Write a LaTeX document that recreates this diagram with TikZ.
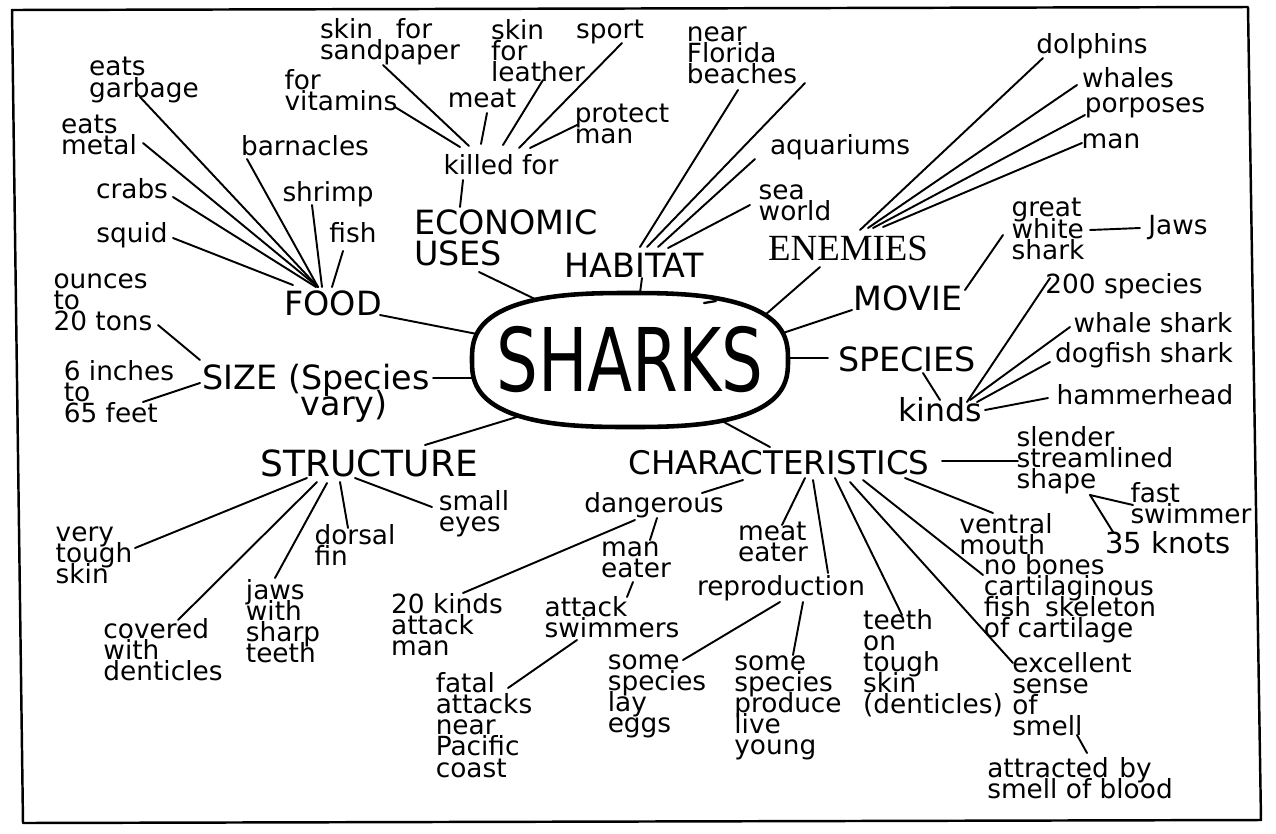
\documentclass[tikz,border=0pt]{standalone}
\usepackage{fontspec}
\usepackage{graphicx}
\setmainfont{DejaVu Sans}
\newfontfamily\serifhd{Liberation Serif}
\usetikzlibrary{calc}
\newcommand{\tightlines}{\lineskiplimit=-100pt\lineskip=0pt\relax}
\tikzset{
  lf/.style={inner sep=1pt, font=\fontsize{15}{12}\selectfont\tightlines, align=left},
  hd/.style={inner sep=1pt, font=\fontsize{19}{17.5}\selectfont\tightlines, align=left},
  ln/.style={line width=1.1pt, line cap=round},
  frame/.style={line width=1.4pt, line join=round},
}
\newcommand{\cn}[6]{\draw[ln] ($(#1.center)+(#2,#3)$) -- ($(#4.center)+(#5,#6)$);}
\begin{document}
\begin{tikzpicture}[x=0.02cm,y=-0.02cm]
\useasboundingbox (0,0) rectangle (1276,833);
\draw[frame] (12,10) -- (1248,7) -- (1261,820) -- (23,823) -- cycle;

% centre
\node[inner sep=0pt, font=\fontsize{50}{50}\selectfont] (sharks) at (630,360) {\scalebox{0.75}[1]{SHARKS}};
\draw[line width=2.6pt, shift={(sharks.center)}] plot[smooth cycle, domain=1:357, samples=90]
  ({158*sign(cos(\x))*abs(cos(\x))^0.7407}, {67*sign(sin(\x))*abs(sin(\x))^0.7407});
\draw[line width=1.3pt, line cap=round] ($(sharks.center)+(74,-57)$) -- ($(sharks.center)+(86,-59)$);

% FOOD
\node[hd] (food) at (333,303) {FOOD};
\node[lf] (garbage) at (144,80) {eats\\garbage};
\node[lf] (metal) at (99,135) {eats\\metal};
\node[lf] (crabs) at (132,189) {crabs};
\node[lf] (squid) at (132,235) {squid};
\node[lf] (barnacles) at (305,146) {barnacles};
\node[lf] (shrimp) at (328,194) {shrimp};
\node[lf] (fish) at (353,233) {fish};

% ECONOMIC USES
\node[lf] (sandpaper) at (390,42) {skin\hspace{13pt}for\\sandpaper};
\node[lf] (vitamins) at (341,90) {for\\vitamins};
\node[lf] (meat) at (482,98) {meat};
\node[lf] (leather) at (538,51) {skin\\for\\leather};
\node[lf] (sport) at (610,32) {sport};
\node[lf] (protect) at (622,124) {protect\\man};
\node[lf] (killed) at (501,165) {killed for};
\node[hd] (econ) at (506,238) {ECONOMIC\\USES};

% HABITAT
\node[hd] (habitat) at (634,265) {HABITAT};
\node[lf] (beaches) at (742,55) {near\\Florida\\beaches};
\node[lf] (aquariums) at (840,147) {aquariums};
\node[lf] (seaworld) at (795,203) {sea\\world};

% ENEMIES
\node[hd, font=\serifhd\fontsize{21}{21}\selectfont] (enemies) at (848,248) {ENEMIES};
\node[lf] (dolphins) at (1092,46) {dolphins};
\node[lf] (whales) at (1128,78) {whales};
\node[lf] (porposes) at (1145,108) {porposes};
\node[lf] (man) at (1111,141) {man};

% MOVIE
\node[hd] (movie) at (908,298) {MOVIE};
\node[lf] (great) at (1048,229) {great\\white\\shark};
\node[lf] (jaws) at (1178,228) {Jaws};

% SPECIES
\node[hd] (species) at (907,359) {SPECIES};
\node[lf, font=\fontsize{18}{18}\selectfont] (kinds) at (940,410) {kinds};
\node[lf] (twohundred) at (1124,286) {200 species};
\node[lf] (whaleshark) at (1153,323) {whale shark};
\node[lf] (dogfish) at (1144,355) {dogfish shark};
\node[lf] (hammer) at (1145,395) {hammerhead};

% CHARACTERISTICS
\node[hd, font=\fontsize{18.5}{18.5}\selectfont] (char) at (779,463) {CHARACTERISTICS};
\node[lf] (slender) at (1095,460) {slender\\streamlined\\shape};
\node[lf] (fast) at (1191,503) {fast\\swimmer};
\node[lf, font=\fontsize{16.5}{16.5}\selectfont] (knots) at (1168,543) {35 knots};
\node[lf] (ventral) at (1006,534) {ventral\\mouth};
\node[lf] (nobones) at (1070,599) {no bones\\cartilaginous\\fish\hspace{8pt}skeleton\\of cartilage};
\node[lf] (excellent) at (1072,694) {excellent\\sense\\of\\smell};
\node[lf] (attracted) at (1080,778) {attracted\hspace{6pt}by\\smell of blood};
\node[lf] (teeth) at (933,663) {teeth\\on\\tough\\skin\\(denticles)};
\node[lf] (repro) at (781,588) {reproduction};
\node[lf] (eggs) at (657,696) {some\\species\\lay\\eggs};
\node[lf] (young) at (788,708) {some\\species\\produce\\live\\young};
\node[lf] (meateater) at (773,542) {meat\\eater};
\node[lf] (dangerous) at (654,505) {dangerous};
\node[lf] (maneater) at (636,560) {man\\eater};
\node[lf] (swimmers) at (612,617) {attack\\swimmers};
\node[lf] (fatal) at (484,725) {fatal\\attacks\\near\\Pacific\\coast};
\node[lf] (twenty) at (447,625) {20 kinds\\attack\\man};

% STRUCTURE
\node[hd, font=\fontsize{20.5}{20.5}\selectfont] (struct) at (369,463) {STRUCTURE};
\node[lf] (verytough) at (94,555) {very\\tough\\skin};
\node[lf] (covered) at (163,650) {covered\\with\\denticles};
\node[lf] (jaws2) at (283,621) {jaws\\with\\sharp\\teeth};
\node[lf] (dorsal) at (355,545) {dorsal\\fin};
\node[lf] (small) at (474,514) {small\\eyes};

% SIZE
\node[hd, font=\fontsize{19}{15}\selectfont\tightlines] (size) at (316,393) {SIZE (Species\\\hspace*{56pt}vary)};
\node[lf] (ounces) at (103,302) {ounces\\to\\20 tons};
\node[lf] (inches) at (119,392) {6 inches\\to\\65 feet};

% connectors
\cn{garbage}{-4}{17}{food}{-15}{-16}
\cn{metal}{44}{8}{food}{-15}{-16}
\cn{crabs}{41}{8}{food}{-17}{-16}
\cn{squid}{41}{3}{food}{-40}{-18}
\cn{barnacles}{-58}{13}{food}{-15}{-16}
\cn{shrimp}{-16}{11}{food}{-11}{-16}
\cn{fish}{-10}{18}{food}{-1}{-16}
\cn{food}{47}{12}{sharks}{-153}{-26}

\cn{sandpaper}{-7}{23}{killed}{-32}{-19}
\cn{vitamins}{54}{17}{killed}{-41}{-18}
\cn{meat}{5}{15}{killed}{-20}{-21}
\cn{leather}{5}{29}{killed}{2}{-20}
\cn{sport}{12}{11}{killed}{18}{-17}
\cn{protect}{-45}{1}{killed}{29}{-17}
\cn{killed}{-38}{15}{econ}{-46}{-31}
\cn{econ}{-27}{34}{sharks}{-93}{-60}

\cn{habitat}{8}{13}{sharks}{10}{-67}
\cn{beaches}{-4}{35}{habitat}{6}{-18}
\cn{beaches}{63}{28}{habitat}{13}{-18}
\cn{aquariums}{-85}{12}{habitat}{24}{-18}
\cn{seaworld}{-45}{2}{habitat}{34}{-17}

\cn{dolphins}{-49}{12}{enemies}{12}{-18}
\cn{whales}{-51}{7}{enemies}{20}{-20}
\cn{porposes}{-60}{7}{enemies}{25}{-20}
\cn{man}{-29}{2}{enemies}{35}{-21}
\cn{enemies}{-28}{19}{sharks}{135}{-45}

\cn{movie}{-56}{12}{sharks}{153}{-27}
\cn{movie}{57}{-8}{great}{-45}{6}
\cn{great}{42}{1}{jaws}{-38}{0}

\cn{sharks}{158}{-2}{species}{-79}{-1}
\cn{species}{16}{14}{kinds}{0}{-10}
\cn{kinds}{27}{-8}{twohundred}{-74}{-8}
\cn{kinds}{30}{-10}{whaleshark}{-83}{4}
\cn{kinds}{37}{-8}{dogfish}{-94}{7}
\cn{kinds}{45}{0}{hammer}{-97}{3}

\cn{sharks}{92}{61}{char}{-9}{-16}
\cn{char}{163}{-2}{slender}{-77}{1}
\cn{slender}{-5}{35}{fast}{-58}{2}
\cn{slender}{-5}{35}{knots}{-55}{-11}
\cn{char}{126}{15}{ventral}{-13}{-21}
\cn{char}{84}{17}{nobones}{-87}{-24}
\cn{char}{71}{19}{excellent}{-59}{-31}
\cn{char}{56}{15}{teeth}{-31}{-48}
\cn{excellent}{5}{41}{attracted}{7}{-25}
\cn{char}{-36}{17}{dangerous}{48}{-12}
\cn{dangerous}{-19}{15}{twenty}{16}{-32}
\cn{dangerous}{3}{13}{maneater}{14}{-20}
\cn{maneater}{-3}{22}{swimmers}{15}{-20}
\cn{swimmers}{-35}{23}{fatal}{24}{-37}
\cn{char}{26}{15}{meateater}{9}{-17}
\cn{char}{34}{17}{repro}{47}{-15}
\cn{repro}{-1}{14}{eggs}{26}{-36}
\cn{repro}{22}{14}{young}{5}{-53}

\cn{sharks}{-110}{56}{struct}{56}{-18}
\cn{struct}{-62}{15}{verytough}{41}{-7}
\cn{struct}{-52}{19}{covered}{15}{-30}
\cn{struct}{-42}{20}{jaws2}{-8}{-43}
\cn{struct}{-29}{19}{dorsal}{-7}{-17}
\cn{struct}{-14}{15}{small}{-42}{-7}

\cn{size}{-116}{-33}{ounces}{55}{23}
\cn{size}{-116}{-10}{inches}{24}{10}
\cn{size}{117}{-15}{sharks}{-156}{18}
\end{tikzpicture}
\end{document}
